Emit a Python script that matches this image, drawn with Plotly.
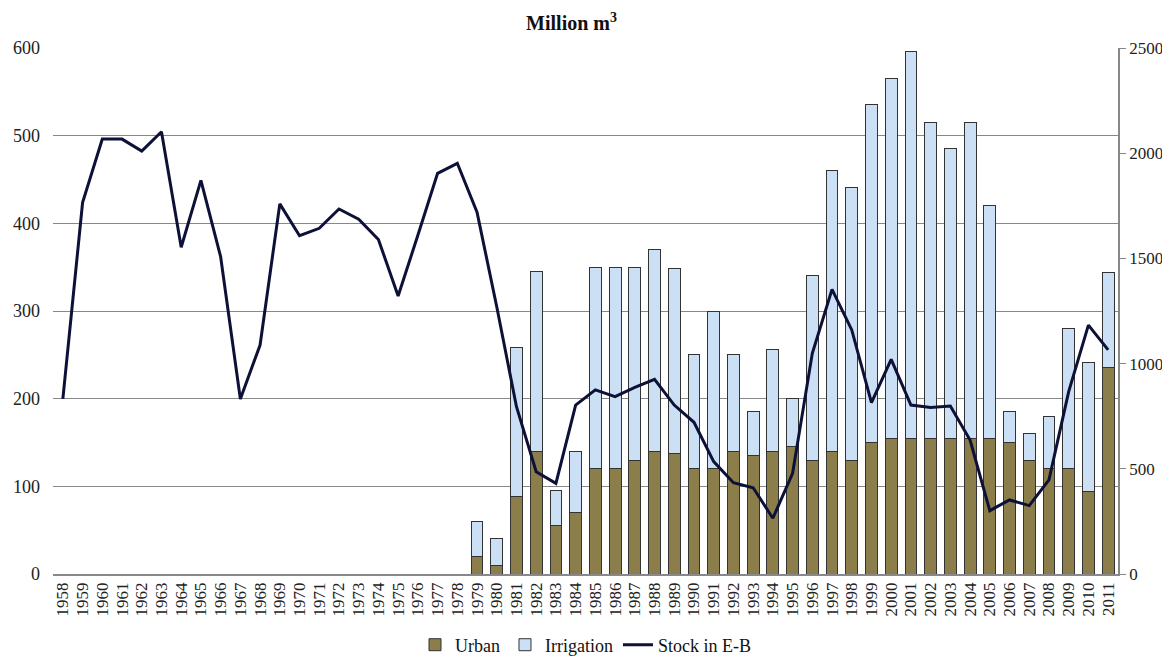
import plotly.graph_objects as go

years = list(range(1958, 2012))

# bars start in 1979
bar_years = list(range(1979, 2012))
urban = [20, 10, 88, 140, 55, 70, 120, 120, 130, 140, 137, 120, 120, 140, 135, 140, 146,
         130, 140, 130, 150, 155, 155, 155, 155, 155, 155, 150, 130, 120, 120, 94, 235]
irrigation = [40, 30, 170, 205, 40, 70, 230, 230, 220, 230, 211, 130, 180, 110, 50, 116, 54,
              210, 320, 311, 385, 410, 441, 360, 330, 360, 265, 35, 30, 60, 160, 147, 109]

# Stock in E-B (right axis)
stock = [832, 1765, 2067, 2067, 2010, 2102, 1553, 1871, 1508, 832,
         1088, 1759, 1608, 1643, 1735, 1686, 1590, 1321, 1610, 1904,
         1952, 1720, 1270, 795, 486, 431, 803, 875, 843, 887,
         925, 803, 721, 534, 434, 410, 265, 478, 1049, 1353,
         1160, 815, 1020, 803, 791, 798, 637, 301, 352, 325,
         447, 867, 1183, 1065]

serif = "Liberation Serif"

fig = go.Figure()
fig.add_trace(go.Bar(x=bar_years, y=urban, name="Urban", width=0.6,
                     marker=dict(color="#8c7e4b", line=dict(color="#333333", width=1))))
fig.add_trace(go.Bar(x=bar_years, y=irrigation, name="Irrigation", width=0.6,
                     marker=dict(color="#cce0f5", line=dict(color="#333333", width=1))))
fig.add_trace(go.Scatter(x=years, y=stock, name="Stock in E-B", mode="lines", yaxis="y2",
                         line=dict(color="#0d1137", width=3)))

# page body adds 8px, so the figure is a bit smaller than the window
fig.update_layout(
    width=1162, height=648,
    barmode="stack",
    paper_bgcolor="white", plot_bgcolor="white",
    margin=dict(l=45, r=52, t=40, b=82, autoexpand=False),
    font=dict(family=serif, size=15, color="#222222"),
    title=dict(text="<b>Million m<sup>3</sup></b>", x=0.485, xanchor="center",
               y=0.977, yanchor="middle", font=dict(family=serif, size=20, color="#111111")),
    xaxis=dict(range=[1957.5, 2011.5], tickmode="linear", dtick=1, tick0=1958,
               tickangle=-90, showgrid=False, showline=True, linecolor="#888888",
               linewidth=1.5, ticks="", tickfont=dict(size=17), automargin=False),
    yaxis=dict(range=[0, 600], dtick=100, showgrid=True, gridcolor="#888888", gridwidth=1.2,
               zeroline=False, showline=False, ticks="", tickfont=dict(size=18),
               ticklabelstandoff=12, automargin=False),
    yaxis2=dict(range=[0, 2500], dtick=500, overlaying="y", side="right", showgrid=False,
                zeroline=False, showline=True, linecolor="#888888", linewidth=1.5,
                ticks="outside", ticklen=6, tickcolor="#888888", tickfont=dict(size=17),
                automargin=False),
    legend=dict(orientation="h", x=0.5, xanchor="center", y=-0.135, yanchor="middle",
                font=dict(family=serif, size=18, color="#111111"), traceorder="normal"),
    bargap=0.4,
)

fig.write_html("out.html")
